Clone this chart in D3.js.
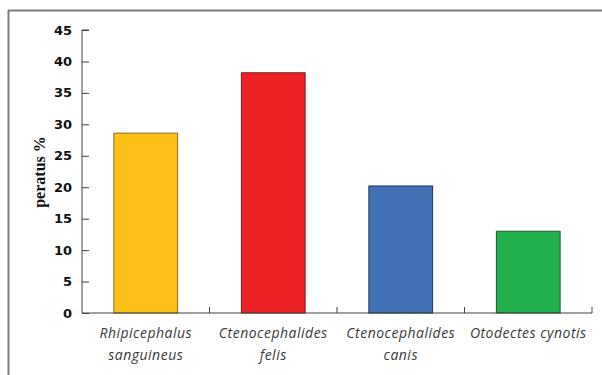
<!DOCTYPE html>
<html><head><meta charset="utf-8">
<script src="https://cdn.jsdelivr.net/npm/d3@7"></script>
<style>body{margin:0;background:#fff}svg{display:block}</style>
</head><body>
<svg id="c" width="602" height="375"></svg>
<script>
const categories = [["Rhipicephalus","sanguineus"],["Ctenocephalides","felis"],["Ctenocephalides","canis"],["Otodectes cynotis"]];
const values = [28.6, 38.2, 20.2, 13.0];
const colors = ["#FDC018","#EE2225","#4470B6","#23B04F"];
const strokes = ["#8a6d1a","#7a1a1a","#1f3559","#1a5a2f"];
const yTicks = [0,5,10,15,20,25,30,35,40,45];
const yLabel = "peratus %";

const svg = d3.select("#c");
const x = d3.scaleBand().domain(d3.range(categories.length)).range([82,592]).paddingInner(0.5).paddingOuter(0.25);
const y = d3.scaleLinear().domain([0,45]).range([313,30]);

// frame
svg.append("line").attr("x1",8).attr("x2",602).attr("y1",10.5).attr("y2",10.5).attr("stroke","#7a7a7a").attr("stroke-width",2);
svg.append("line").attr("x1",8.5).attr("x2",8.5).attr("y1",10).attr("y2",375).attr("stroke","#7a7a7a").attr("stroke-width",2);

// bars
svg.selectAll("rect.bar").data(values).join("rect").attr("class","bar")
  .attr("x",(d,i)=>x(i)).attr("width",x.bandwidth())
  .attr("y",d=>y(d)).attr("height",d=>y(0)-y(d))
  .attr("fill",(d,i)=>colors[i]).attr("stroke",(d,i)=>strokes[i]).attr("stroke-width",1);

// y axis
const ya = svg.append("g").attr("transform","translate(82,0)")
  .call(d3.axisRight(y).tickValues(yTicks).tickSize(7).tickFormat(""));
ya.selectAll("path,line").attr("stroke","#444");
ya.select(".domain").attr("d","M7,30H0V313");
svg.selectAll("text.yt").data(yTicks).join("text").attr("class","yt")
  .attr("x",72).attr("y",d=>y(d)).attr("dy","0.35em").attr("text-anchor","end")
  .attr("font-family","DejaVu Sans").attr("font-weight","bold").attr("font-size",13).attr("fill","#111")
  .text(d=>d);

// x axis
const step = x.step();
const bounds = d3.range(categories.length+1).map(i=>82 + i*step);
svg.append("line").attr("x1",82).attr("x2",592).attr("y1",y(0)).attr("y2",y(0)).attr("stroke","#444");
svg.selectAll("line.xt").data(bounds.slice(1)).join("line").attr("class","xt")
  .attr("x1",d=>d).attr("x2",d=>d).attr("y1",y(0)).attr("y2",y(0)-6).attr("stroke","#444");

svg.selectAll("text.xl").data(categories).join("text").attr("class","xl")
  .attr("x",(d,i)=>x(i)+x.bandwidth()/2).attr("y",338)
  .attr("text-anchor","middle").attr("font-family","Open Sans").attr("font-style","italic")
  .attr("font-size",14).attr("letter-spacing",0.5).attr("fill","#3a3a3a")
  .selectAll("tspan").data(d=>d).join("tspan")
  .attr("x",function(){return d3.select(this.parentNode).attr("x");})
  .attr("dy",(d,j)=>j?22:0).text(d=>d);

svg.append("text").attr("transform","translate(45,172) rotate(-90)")
  .attr("text-anchor","middle").attr("font-family","Liberation Serif").attr("font-weight","bold")
  .attr("font-size",16).attr("fill","#111").text(yLabel);
</script>
</body></html>
